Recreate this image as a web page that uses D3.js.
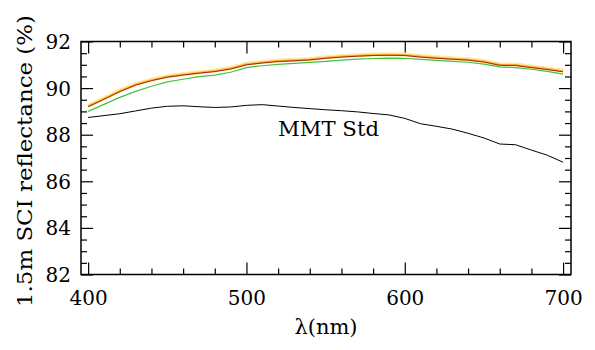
<!DOCTYPE html>
<html><head><meta charset="utf-8">
<script src="https://cdn.jsdelivr.net/npm/d3@7"></script>
<style>
html,body{margin:0;padding:0;background:#fff;}
svg{display:block;}
text{font-family:"DejaVu Serif","Liberation Serif","DejaVu Sans",sans-serif;fill:#000;}
</style></head>
<body>
<svg id="c" width="595" height="350"></svg>
<script>
const wavelengths = [400,410,420,430,440,450,460,470,480,490,500,510,520,530,540,550,560,570,580,590,600,610,620,630,640,650,660,670,680,690,700];
const upperSeries = [89.20,89.52,89.85,90.13,90.32,90.47,90.56,90.64,90.71,90.82,91.00,91.08,91.14,91.17,91.21,91.28,91.33,91.37,91.40,91.41,91.40,91.33,91.28,91.24,91.20,91.12,90.98,90.97,90.88,90.80,90.70];
const greenSeries = [89.00,89.30,89.60,89.86,90.08,90.27,90.38,90.49,90.56,90.68,90.88,90.96,91.02,91.06,91.10,91.15,91.20,91.24,91.27,91.29,91.28,91.23,91.19,91.15,91.11,91.03,90.91,90.88,90.81,90.72,90.60];
const mmtStd = [88.74,88.82,88.90,89.02,89.14,89.22,89.24,89.20,89.17,89.19,89.26,89.29,89.23,89.17,89.12,89.07,89.03,88.98,88.91,88.85,88.70,88.47,88.36,88.24,88.06,87.86,87.60,87.57,87.34,87.12,86.82];
const xTickLabels = [400,500,600,700];
const yTickLabels = [82,84,86,88,90,92];
const mmtLabel = "MMT Std";
const xTitle = "λ(nm)";
const yTitle = "1.5m SCI reflectance (%)";

const svg = d3.select("#c");
const L = 81, R = 571, T = 41.5, B = 274.5;
const x = d3.scaleLinear().domain([395.5, 705]).range([L, R]);
const y = d3.scaleLinear().domain([82, 92]).range([B, T]);

const xMinor = d3.range(400, 701, 20).filter(v => v % 100 !== 0);
const yMinor = d3.range(82, 92.01, 0.5).filter(v => Math.abs(v % 2) > 1e-9);

function tickAxis(axisGen, tx, ty, len, vals) {
  const g = svg.append("g").attr("transform", `translate(${tx},${ty})`)
    .call(axisGen.tickValues(vals).tickSize(len).tickFormat(""));
  g.select(".domain").remove();
  g.selectAll(".tick line").attr("stroke", "#000").attr("stroke-width", 1.2);
  return g;
}
tickAxis(d3.axisTop(x), 0, B, 12, xTickLabels);
tickAxis(d3.axisTop(x), 0, B, 6, xMinor);
tickAxis(d3.axisBottom(x), 0, T, 12, xTickLabels);
tickAxis(d3.axisBottom(x), 0, T, 6, xMinor);
tickAxis(d3.axisRight(y), L, 0, 12, yTickLabels);
tickAxis(d3.axisRight(y), L, 0, 6, yMinor);
tickAxis(d3.axisLeft(y), R, 0, 12, yTickLabels);
tickAxis(d3.axisLeft(y), R, 0, 6, yMinor);

const xl = svg.append("g").attr("transform", `translate(0,${B})`)
  .call(d3.axisBottom(x).tickValues(xTickLabels).tickSize(0).tickPadding(0).tickFormat(d3.format("d")));
xl.select(".domain").remove();
xl.selectAll("text").attr("dy", null).attr("y", 30).attr("font-size", 20).attr("font-family", null);
const yl = svg.append("g").attr("transform", `translate(${L},0)`)
  .call(d3.axisLeft(y).tickValues(yTickLabels).tickSize(0).tickPadding(0).tickFormat(d3.format("d")));
yl.select(".domain").remove();
yl.selectAll("text").attr("dy", null).attr("x", -10).attr("y", 7).attr("font-size", 20).attr("font-family", null);

const pts = arr => wavelengths.map((w, i) => [w, arr[i]]);
const line = d3.line().x(d => x(d[0])).y(d => y(d[1]));
svg.append("path").attr("d", line(pts(upperSeries))).attr("fill", "none")
  .attr("stroke", "#ffeaa8").attr("stroke-width", 4).attr("stroke-linejoin", "round")
  .attr("transform", "translate(0,-1)");
svg.append("path").attr("d", line(pts(upperSeries))).attr("fill", "none")
  .attr("stroke", "#ffb030").attr("stroke-width", 2).attr("stroke-linejoin", "round")
  .attr("transform", "translate(0,-0.5)");
svg.append("path").attr("d", line(pts(greenSeries))).attr("fill", "none")
  .attr("stroke", "#44c044").attr("stroke-width", 1.2).attr("stroke-linejoin", "round");
svg.append("path").attr("d", line(pts(upperSeries))).attr("fill", "none")
  .attr("stroke", "#a02810").attr("stroke-width", 1).attr("stroke-linejoin", "round");
svg.append("path").attr("d", line(pts(mmtStd))).attr("fill", "none")
  .attr("stroke", "#000").attr("stroke-width", 1).attr("stroke-linejoin", "round");

svg.append("rect").attr("x", L).attr("y", T).attr("width", R - L).attr("height", B - T)
  .attr("fill", "none").attr("stroke", "#000").attr("stroke-width", 1.5);

svg.append("text").attr("x", 278).attr("y", 136).attr("font-size", 21)
  .attr("textLength", 101).attr("lengthAdjust", "spacingAndGlyphs").text(mmtLabel);

svg.append("text").attr("x", 326).attr("y", 334).attr("text-anchor", "middle")
  .attr("font-size", 21).text(xTitle);
svg.append("text").attr("transform", `translate(32,307) rotate(-90)`)
  .attr("font-size", 20).attr("textLength", 292).attr("lengthAdjust", "spacingAndGlyphs").text(yTitle);
</script>
</body></html>
